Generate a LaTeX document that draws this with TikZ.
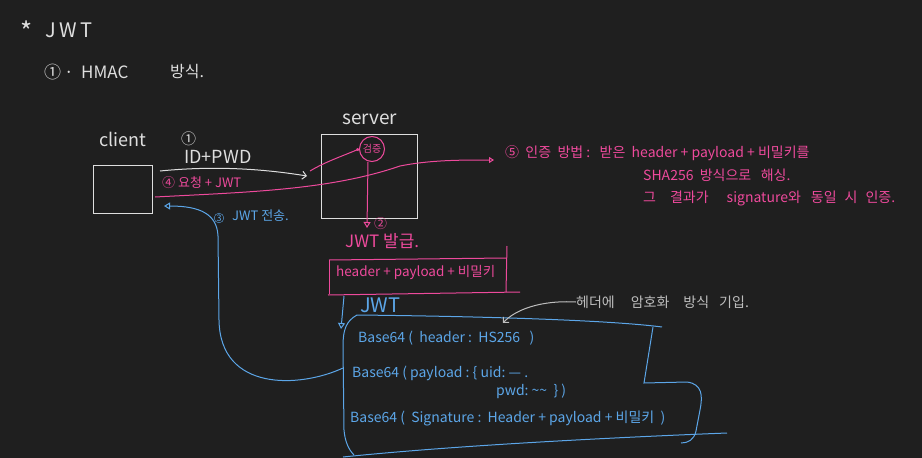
\documentclass[tikz,border=0pt]{standalone}
\usepackage{fontspec}
\setmainfont{Noto Sans CJK KR}
\usetikzlibrary{arrows.meta}
\definecolor{bg}{HTML}{1F1F1F}
\definecolor{ink}{HTML}{DEDEDE}
\definecolor{pinkink}{HTML}{EE4A9C}
\definecolor{blueink}{HTML}{5CA6E8}
\definecolor{grayink}{HTML}{BEBEBE}
\tikzset{
  wtxt/.style={text=ink, anchor=west, inner sep=0pt, font=\fontsize{17}{19}\selectfont},
  ptxt/.style={text=pinkink, anchor=west, inner sep=0pt, font=\fontsize{14}{16}\selectfont},
  btxt/.style={text=blueink, anchor=west, inner sep=0pt, font=\fontsize{14}{16}\selectfont},
  gtxt/.style={text=grayink, anchor=west, inner sep=0pt, font=\fontsize{14}{16}\selectfont},
  wline/.style={draw=ink, line width=1pt},
  pline/.style={draw=pinkink, line width=1pt},
  bline/.style={draw=blueink, line width=1pt},
  opentip/.style={-{Triangle[open,length=6pt,width=7pt]}},
  barbtip/.style={-{Straight Barb[length=4pt,width=8pt]}},
}
\begin{document}
\begin{tikzpicture}[x=1pt,y=-1pt]
\fill[bg] (0,0) rectangle (922,458);

% titles
\node[wtxt, font=\fontsize{20}{22}\selectfont] (title) at (20,31) {\raisebox{-0.4ex}{\fontsize{26}{26}\selectfont *}\hspace{13pt}J\,W\,T};
\node[wtxt, font=\fontsize{17}{19}\selectfont] (sub) at (44,72) {①\,·\ \ HMAC};
\node[wtxt, font=\fontsize{16}{18}\selectfont] (subk) at (170,72) {방식.};

% client
\node[wtxt, font=\fontsize{18}{20}\selectfont] (clientlbl) at (99,139) {client};
\node[wline, minimum width=59pt, minimum height=48pt, inner sep=0pt] (client) at (122.5,189) {};

% server
\node[wtxt, font=\fontsize{19}{21}\selectfont] (serverlbl) at (342,119) {server};
\node[wline, minimum width=96pt, minimum height=84pt, inner sep=0pt] (server) at (369,176) {};
\node[pline, circle, minimum size=25pt, inner sep=0pt, text=pinkink, font=\fontsize{10}{11}\selectfont] (verify) at (372,149) {검증};

% step 1
\node[wtxt, font=\fontsize{15}{17}\selectfont] (n1) at (181,139) {①};
\node[wtxt, font=\fontsize{18}{20}\selectfont] (idpwd) at (184,157) {ID+PWD};
\coordinate (a1s) at (160,171);
\coordinate (a1e) at (307,176);
\draw[wline, barbtip] (a1s) .. controls (220,165) and (270,170) .. (a1e);

% step 4
\node[ptxt, font=\fontsize{13}{15}\selectfont] (req) at (162,183) {④ 요청 + JWT};
\coordinate (p1s) at (155,197);
\coordinate (p1e) at (494,160);
\draw[pline, -{Triangle[open,length=5pt,width=6pt]}] (p1s) .. controls (250,192) and (330,190) .. (400,166) .. controls (430,160) and (460,160) .. (p1e);
\coordinate (p2s) at (310,171);
\draw[pline, -{Circle[length=3pt]}] (p2s) .. controls (325,162) and (340,157) .. (verify.west);

% step 2
\coordinate (p3e) at (367,228);
\draw[pline, opentip] (verify.south) ++(-4,0) -- (p3e);
\node[ptxt, font=\fontsize{13}{15}\selectfont] (n2) at (374,224) {②};
\node[ptxt, font=\fontsize{17}{19}\selectfont] (issue) at (345,241) {JWT 발급.};

% step 5
\node[ptxt] (how1) at (505,153) {⑤\ \ 인증\ \ 방법\ :\ \ \ 받은\ \ header + payload + 비밀키를};
\node[ptxt] (how2) at (643,175) {SHA256\ \ 방식으로\ \ \ 해싱.};
\node[ptxt] (how3) at (643,198) {그\hspace{14pt}결과가\hspace{18pt}signature와\hspace{10pt}동일\hspace{8pt}시\hspace{8pt}인증.};

% pink box
\node[minimum width=178pt, minimum height=34pt, inner sep=0pt] (pbox) at (418,276) {};
\draw[draw=pinkink, line width=1pt] (329,260) -- (506,258);
\draw[draw=pinkink, line width=1pt] (329,260) -- (329,294);
\draw[draw=pinkink, line width=1pt] (507,246) -- (506,292);
\draw[draw=pinkink, line width=1pt] (328,295) -- (520,292);
\node[ptxt, font=\fontsize{13.5}{15}\selectfont] (ptext) at (336,272) {header + payload + 비밀키};

% arrow to JWT
\coordinate (b1s) at (344,296);
\coordinate (b1e) at (341,329);
\draw[bline, opentip] (b1s) -- (b1e);
\node[btxt, font=\fontsize{20}{22}\selectfont] (jwtlbl) at (360,305) {JWT};

% JWT bracket
\draw[bline] (357,315) .. controls (450,316) and (600,319) .. (662,327);
\draw[bline] (357,315) .. controls (346,321) and (343,330) .. (343,346) -- (344,430) .. controls (345,442) and (349,450) .. (354,455);
\draw[bline] (343,457) .. controls (450,446) and (600,438) .. (727,433);
\draw[bline] (653,327) -- (644,383) -- (687,382) .. controls (702,384) and (703,395) .. (700,410) -- (696,431) .. controls (694,440) and (688,443) .. (681,443);
\coordinate (jwtleft) at (343,368);

% JWT content
\node[btxt] (l1) at (358,338) {Base64 (\ \ header\ :\ \ HS256\ \ \ )};
\node[btxt] (l2) at (352,373) {Base64 (\ payload\ :\ \{\ uid:\ —\ .};
\node[btxt] (l2b) at (496,391) {pwd:\ \textasciitilde\textasciitilde\ \ \}\ )};
\node[btxt] (l3) at (350,418) {Base64\ (\ \ Signature\ :\ \ Header + payload + 비밀키\ \ )};

% step 3
\coordinate (c1e) at (164,206);
\draw[bline, opentip] (jwtleft) .. controls (300,388) and (220,392) .. (219,320) -- (218,236) .. controls (217,214) and (200,206) .. (c1e);
\node[fill=bg, draw=blueink, circle, inner sep=0.5pt, text=blueink, font=\fontsize{9}{10}\selectfont] (n3) at (219,218) {3};
\node[btxt, font=\fontsize{13}{15}\selectfont] (send) at (232,216) {JWT 전송.};

% header note
\node[gtxt] (note) at (576,302) {헤더에\hspace{16pt}암호화\hspace{14pt}방식\hspace{10pt}기입.};
\coordinate (g1e) at (503,323);
\draw[draw=grayink, line width=1pt, barbtip] (note.west) .. controls (540,300) and (515,310) .. (g1e);
\end{tikzpicture}
\end{document}
